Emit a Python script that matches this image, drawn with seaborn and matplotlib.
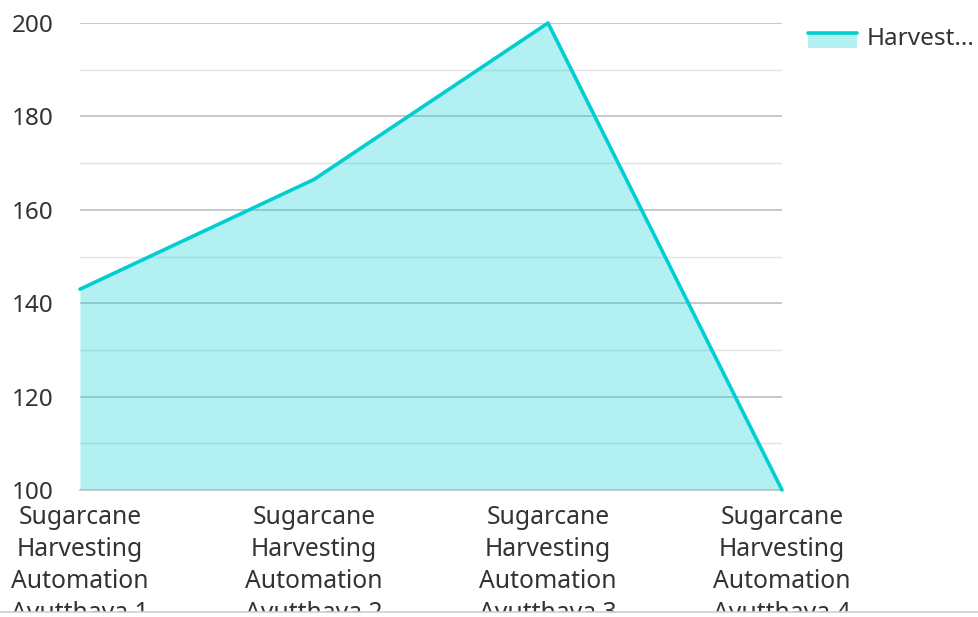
import numpy as np
import pandas as pd
import matplotlib
matplotlib.use("Agg")
import matplotlib.pyplot as plt
import seaborn as sns
from matplotlib.legend_handler import HandlerBase
from matplotlib.patches import Rectangle
from matplotlib.lines import Line2D
from matplotlib.ticker import MultipleLocator

# data
categories = [
    "Sugarcane\nHarvesting\nAutomation\nAyutthaya 1",
    "Sugarcane\nHarvesting\nAutomation\nAyutthaya 2",
    "Sugarcane\nHarvesting\nAutomation\nAyutthaya 3",
    "Sugarcane\nHarvesting\nAutomation\nAyutthaya 4",
]
values = [143, 166.5, 200, 100]
series_name = "Harvest..."
y_ticks = [100, 120, 140, 160, 180, 200]

line_color = "#00CED1"
text_color = "#333333"

sns.set_theme(style="white")
plt.rcParams["font.family"] = ["Noto Sans", "DejaVu Sans"]

df = pd.DataFrame({"pos": np.arange(len(categories)), "value": values})

fig = plt.figure(figsize=(9.79, 6.17), dpi=100)
ax = fig.add_axes([80 / 979, 1 - 490 / 617, 702 / 979, 467 / 617])

ax.set_axisbelow(True)
ax.yaxis.set_minor_locator(MultipleLocator(10))
ax.grid(axis="y", which="major", color="#c0c0c0", lw=1.2)
ax.grid(axis="y", which="minor", color="#e4e4e4", lw=1.0)

ax.fill_between(df["pos"], df["value"], 100, color=line_color, alpha=0.3, lw=0)
sns.lineplot(data=df, x="pos", y="value", ax=ax, color=line_color, lw=2.6,
             legend=False, clip_on=False, zorder=5)

ax.set_xlim(0, len(categories) - 1)
ax.set_ylim(100, 200)
ax.set_yticks(y_ticks)
ax.set_xticks(df["pos"])
ax.set_xticklabels(categories, linespacing=1.36)
ax.set_xlabel("")
ax.set_ylabel("")
ax.tick_params(axis="x", length=0, pad=11, labelsize=17.8, labelcolor=text_color)
ax.tick_params(axis="y", which="both", length=0, pad=19, labelsize=17.5, labelcolor=text_color)
for side in ["left", "right", "top"]:
    ax.spines[side].set_visible(False)
ax.spines["bottom"].set_color("#c0c0c0")
ax.spines["bottom"].set_linewidth(1.2)


class AreaHandler(HandlerBase):
    def create_artists(self, legend, orig_handle, xdescent, ydescent,
                       width, height, fontsize, trans):
        x0, y0 = -xdescent, -ydescent - 3
        rect = Rectangle((x0, y0), width, height, facecolor=line_color,
                         alpha=0.3, edgecolor="none", transform=trans)
        top = Line2D([x0, x0 + width], [y0 + height] * 2, color=line_color,
                     lw=2.6, transform=trans)
        return [rect, top]


handle = Rectangle((0, 0), 1, 1)
fig.legend([handle], [series_name], handler_map={Rectangle: AreaHandler()},
           loc="upper left", bbox_to_anchor=(808 / 979, 1 - 27 / 617),
           frameon=False, borderpad=0, borderaxespad=0, handlelength=2.0,
           handleheight=0.55, handletextpad=0.42, fontsize=17.5,
           labelcolor=text_color)

# bottom container edge that cuts off the last label line
fig.add_artist(Rectangle((0, 0), 1, 5 / 617, transform=fig.transFigure,
                         facecolor="white", edgecolor="none", zorder=10))
fig.add_artist(Line2D([0, 1], [5 / 617, 5 / 617], transform=fig.transFigure,
                      color="#d0d0d0", lw=1.2, zorder=11))

fig.savefig("out.png", dpi=100)
